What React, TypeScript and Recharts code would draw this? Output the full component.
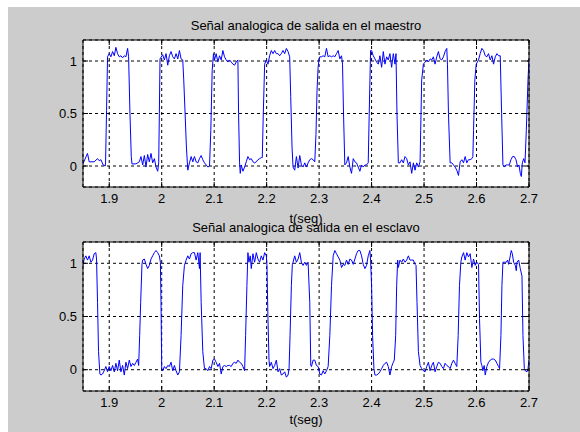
import React from 'react';
import { LineChart, Line, XAxis, YAxis, CartesianGrid } from 'recharts';

const xTicks = [1.9, 2, 2.1, 2.2, 2.3, 2.4, 2.5, 2.6, 2.7];
const yTicks = [0, 0.5, 1];
const xDomain: [number, number] = [1.85, 2.7];
const yDomain: [number, number] = [-0.2, 1.2];

const masterTitle = 'Señal analogica de salida en el maestro';
const slaveTitle = 'Señal analogica de salida en el esclavo';
const xLabel = 't(seg)';

// [t (s), amplitude] read from the master (top) trace
const masterSignal: [number, number][] = [
  [1.849, 0.01], [1.8586, 0.12], [1.8618, 0.04], [1.8713, 0.04], [1.8777, 0.07], [1.8809, 0.05],
  [1.8841, 0.06], [1.8885, 0.01], [1.8924, 0.0], [1.893, 0.03], [1.8949, 0.53], [1.8968, 1.04],
  [1.9, 1.07], [1.9032, 1.04], [1.9064, 1.09], [1.9096, 1.05], [1.9127, 1.13], [1.9159, 1.07],
  [1.9191, 1.04], [1.9223, 1.05], [1.9255, 1.03], [1.9287, 1.05], [1.9318, 1.04], [1.935, 1.12],
  [1.9369, 1.04], [1.9395, 0.5], [1.942, 0.09], [1.9433, 0.02], [1.951, 0.02], [1.9573, 0.04],
  [1.9605, 0.09], [1.9637, 0.01], [1.9669, 0.1], [1.9701, -0.01], [1.9732, 0.11], [1.9764, 0.04],
  [1.9796, 0.12], [1.9828, 0.03], [1.986, 0.07], [1.9892, -0.01], [1.9924, -0.05], [1.9943, 0.03],
  [1.9955, 0.5], [1.9968, 1.02], [2.0019, 1.06], [2.0051, 1.01], [2.0083, 1.07], [2.0115, 0.96],
  [2.0146, 1.05], [2.0178, 1.09], [2.021, 1.04], [2.0242, 1.02], [2.0274, 1.07], [2.0306, 1.02],
  [2.0338, 1.1], [2.0369, 1.02], [2.0401, 1.01], [2.042, 0.82], [2.0446, 0.5], [2.0471, 0.18],
  [2.0497, -0.04], [2.0529, 0.03], [2.0561, 0.09], [2.0592, 0.04], [2.0624, 0.09], [2.0656, 0.04],
  [2.0688, 0.03], [2.072, 0.07], [2.0752, 0.1], [2.0783, 0.06], [2.0815, 0.03], [2.0847, 0.01],
  [2.0879, -0.01], [2.0911, 0.0], [2.0936, 0.34], [2.0962, 0.91], [2.0987, 1.07], [2.1006, 1.01],
  [2.1038, 1.07], [2.107, 0.99], [2.1102, 1.05], [2.1134, 1.01], [2.1166, 1.1], [2.1197, 1.04],
  [2.1229, 1.01], [2.1261, 0.99], [2.1293, 1.01], [2.1325, 0.99], [2.1357, 0.97], [2.1389, 0.96],
  [2.142, 0.99], [2.1452, 1.01], [2.1465, 0.5], [2.1484, 0.03], [2.1497, -0.07], [2.1516, 0.01],
  [2.1548, -0.05], [2.158, -0.01], [2.1611, 0.04], [2.1643, 0.09], [2.1675, 0.06], [2.1707, 0.07],
  [2.1739, 0.04], [2.1771, 0.03], [2.1803, 0.04], [2.1834, 0.06], [2.1866, 0.07], [2.1898, 0.08],
  [2.1917, 0.08], [2.1936, 0.5], [2.1962, 0.97], [2.1994, 1.01], [2.2025, 0.97], [2.2057, 1.05],
  [2.2089, 1.1], [2.2121, 1.07], [2.2153, 1.1], [2.2185, 1.07], [2.2217, 1.07], [2.2248, 1.05],
  [2.228, 1.07], [2.2312, 1.1], [2.2344, 1.07], [2.2376, 1.12], [2.2408, 1.09], [2.2439, 1.04],
  [2.2459, 0.66], [2.2484, 0.18], [2.2503, -0.01], [2.2535, -0.04], [2.2567, 0.09], [2.2599, -0.02],
  [2.2631, 0.1], [2.2662, 0.01], [2.2694, -0.01], [2.2726, 0.03], [2.2758, -0.01], [2.279, 0.03],
  [2.2822, 0.06], [2.2854, 0.07], [2.2885, 0.06], [2.2917, 0.04], [2.294, 0.3], [2.296, 0.72],
  [2.2981, 0.94], [2.3, 1.02], [2.3013, 1.04], [2.3045, 1.04], [2.3076, 1.05], [2.3108, 1.04],
  [2.314, 1.12], [2.3172, 1.04], [2.3204, 1.05], [2.3236, 1.04], [2.3268, 1.05], [2.3299, 1.04],
  [2.3331, 1.07], [2.3363, 1.1], [2.3395, 1.02], [2.3427, 1.05], [2.3446, 0.97], [2.3465, 0.5],
  [2.349, 0.01], [2.3522, 0.03], [2.3554, 0.09], [2.3586, -0.01], [2.3618, -0.07], [2.365, 0.07],
  [2.3682, 0.04], [2.3713, 0.03], [2.3745, -0.01], [2.3777, -0.05], [2.3809, 0.01], [2.3841, -0.01],
  [2.3873, 0.01], [2.3904, 0.01], [2.3936, 0.03], [2.3955, 0.5], [2.3981, 1.1], [2.4, 1.1],
  [2.4032, 1.05], [2.4064, 1.02], [2.4096, 0.99], [2.4127, 0.97], [2.4159, 1.05], [2.4191, 0.94],
  [2.4223, 1.09], [2.4255, 0.97], [2.4287, 1.04], [2.4318, 1.01], [2.435, 1.07], [2.4382, 0.94],
  [2.4414, 1.07], [2.4446, 0.97], [2.4465, 1.07], [2.4484, 0.5], [2.451, 0.03], [2.4541, 0.03],
  [2.4573, 0.06], [2.4605, 0.03], [2.4637, 0.09], [2.4669, 0.07], [2.4701, 0.01], [2.4732, 0.04],
  [2.4764, -0.07], [2.4796, 0.03], [2.4828, -0.04], [2.486, 0.03], [2.4892, -0.01], [2.4924, 0.04],
  [2.4936, 0.34], [2.4955, 0.82], [2.4987, 0.97], [2.5019, 0.99], [2.5051, 1.01], [2.5083, 0.99],
  [2.5115, 1.02], [2.5146, 1.01], [2.5178, 1.04], [2.521, 0.97], [2.5242, 1.04], [2.5274, 1.09],
  [2.5306, 1.02], [2.5338, 1.01], [2.5369, 1.04], [2.5401, 1.09], [2.5433, 1.12], [2.5446, 0.97],
  [2.5465, 0.5], [2.5497, 0.03], [2.5529, 0.03], [2.5561, 0.01], [2.5592, -0.01], [2.5624, -0.04],
  [2.5656, -0.09], [2.5688, 0.04], [2.572, 0.06], [2.5752, 0.03], [2.5783, 0.09], [2.5815, 0.03],
  [2.5847, 0.06], [2.5879, 0.06], [2.5911, 0.07], [2.593, 0.09], [2.5943, 0.34], [2.5968, 0.82],
  [2.5994, 0.97], [2.6038, 1.01], [2.607, 1.07], [2.6102, 1.12], [2.6134, 1.1], [2.6166, 1.05],
  [2.6197, 1.04], [2.6229, 1.07], [2.6261, 1.01], [2.6293, 1.05], [2.6325, 0.97], [2.6357, 1.04],
  [2.6389, 1.07], [2.642, 1.05], [2.6452, 1.05], [2.6478, 0.5], [2.6503, 0.01], [2.6529, -0.01],
  [2.6561, 0.01], [2.6592, 0.01], [2.6624, 0.01], [2.6656, 0.06], [2.6688, 0.09], [2.672, 0.09],
  [2.6752, 0.06], [2.6783, -0.01], [2.6809, 0.01], [2.6834, -0.07], [2.6854, -0.1], [2.6873, 0.03],
  [2.6899, 0.07], [2.6924, 0.03], [2.6949, 0.34], [2.6981, 0.82], [2.7, 1.02],
];

// [t (s), amplitude] read from the slave (bottom) trace
const slaveSignal: [number, number][] = [
  [1.849, 0.96], [1.8522, 1.04], [1.8554, 1.07], [1.8586, 1.03], [1.8618, 1.07], [1.865, 1.01],
  [1.8682, 1.03], [1.8713, 1.09], [1.8745, 1.1], [1.8758, 1.04], [1.8777, 0.63], [1.8796, 0.17],
  [1.8822, -0.04], [1.8841, -0.05], [1.8873, -0.04], [1.8904, -0.01], [1.8936, 0.03], [1.8968, -0.02],
  [1.9, 0.03], [1.9032, -0.01], [1.9064, 0.04], [1.9096, -0.02], [1.9127, 0.06], [1.9159, -0.01],
  [1.9191, 0.09], [1.9223, -0.02], [1.9255, 0.04], [1.9287, -0.05], [1.9318, 0.07], [1.935, 0.01],
  [1.9382, 0.09], [1.9414, 0.03], [1.9446, 0.06], [1.9478, 0.04], [1.951, 0.07], [1.9541, 0.1],
  [1.9561, 0.04], [1.958, 0.32], [1.9599, 0.63], [1.9624, 0.99], [1.9637, 1.03], [1.9669, 1.04],
  [1.9701, 0.99], [1.9732, 0.95], [1.9764, 0.98], [1.9796, 1.04], [1.9828, 1.07], [1.986, 1.1],
  [1.9892, 1.12], [1.9924, 1.1], [1.9955, 1.07], [1.9975, 1.01], [1.9987, 0.63], [2.0, 0.01],
  [2.0019, -0.01], [2.0051, 0.03], [2.0083, 0.01], [2.0115, 0.04], [2.0146, 0.03], [2.0178, 0.07],
  [2.021, -0.01], [2.0242, 0.04], [2.0274, -0.01], [2.0306, -0.05], [2.0338, -0.02], [2.0369, 0.32],
  [2.0401, 0.79], [2.0433, 0.98], [2.0465, 1.03], [2.0497, 1.07], [2.0529, 1.04], [2.0561, 1.09],
  [2.0592, 1.1], [2.0624, 1.1], [2.0656, 1.03], [2.0688, 1.1], [2.072, 0.95], [2.0732, 1.1],
  [2.0752, 0.63], [2.0783, 0.17], [2.0815, 0.01], [2.0847, 0.01], [2.0879, -0.01], [2.0911, 0.03],
  [2.0943, 0.01], [2.0975, 0.09], [2.1006, 0.1], [2.1038, 0.07], [2.107, 0.03], [2.1102, 0.06],
  [2.1134, -0.04], [2.1166, 0.03], [2.1197, 0.04], [2.1229, 0.03], [2.1261, 0.04], [2.1293, 0.04],
  [2.1325, 0.03], [2.1357, 0.06], [2.1389, 0.07], [2.142, 0.06], [2.1452, 0.09], [2.1484, 0.07],
  [2.1516, 0.06], [2.1548, 0.03], [2.158, -0.01], [2.1599, 0.32], [2.1624, 0.79], [2.1643, 1.1],
  [2.1662, 1.01], [2.1688, 1.07], [2.1707, 0.95], [2.1739, 1.09], [2.1771, 1.01], [2.1803, 1.1],
  [2.1834, 1.04], [2.1866, 1.01], [2.1898, 1.07], [2.193, 1.03], [2.1962, 1.1], [2.1994, 1.07],
  [2.2006, 0.98], [2.2025, 0.48], [2.2045, 0.09], [2.2057, 0.03], [2.2089, 0.07], [2.2121, 0.01],
  [2.2153, 0.04], [2.2185, 0.09], [2.2217, -0.02], [2.2248, 0.01], [2.228, -0.05], [2.2312, -0.04],
  [2.2344, -0.02], [2.2376, -0.07], [2.2408, -0.05], [2.2427, 0.01], [2.2446, 0.32], [2.2471, 0.79],
  [2.249, 0.99], [2.2503, 1.01], [2.2535, 1.07], [2.2567, 1.01], [2.2599, 1.04], [2.2631, 1.1],
  [2.2662, 1.01], [2.2694, 0.98], [2.2726, 1.01], [2.2758, 0.98], [2.279, 1.01], [2.2822, 0.63],
  [2.2841, 0.04], [2.2854, 0.03], [2.2885, 0.09], [2.2917, 0.09], [2.2949, 0.04], [2.2981, 0.03],
  [2.3013, -0.04], [2.3045, -0.05], [2.3076, -0.01], [2.3108, -0.04], [2.314, -0.01], [2.3172, 0.03],
  [2.3204, 0.32], [2.3236, 0.79], [2.3268, 1.07], [2.3299, 1.12], [2.3331, 1.09], [2.3363, 1.06],
  [2.3395, 1.03], [2.3427, 0.96], [2.3459, 0.99], [2.349, 0.98], [2.3522, 1.03], [2.3554, 0.99],
  [2.3586, 1.04], [2.3618, 1.03], [2.365, 0.99], [2.3682, 1.04], [2.3713, 1.09], [2.3745, 1.12],
  [2.3777, 1.12], [2.3809, 1.07], [2.3841, 0.99], [2.3873, 0.95], [2.3904, 0.98], [2.3936, 1.07],
  [2.3968, 1.12], [2.3981, 1.03], [2.4, 0.79], [2.4019, 0.32], [2.4045, 0.01], [2.4064, -0.05],
  [2.4096, -0.05], [2.4127, -0.04], [2.4159, -0.02], [2.4191, 0.01], [2.4223, 0.04], [2.4255, 0.06],
  [2.4287, 0.07], [2.4318, 0.03], [2.435, -0.05], [2.4382, 0.03], [2.4414, 0.07], [2.4433, 0.09],
  [2.4459, 0.32], [2.4478, 0.79], [2.4497, 1.03], [2.451, 0.96], [2.4541, 1.03], [2.4573, 1.01],
  [2.4605, 1.04], [2.4637, 1.01], [2.4669, 1.03], [2.4701, 1.07], [2.4732, 1.03], [2.4764, 1.03],
  [2.4796, 1.03], [2.4828, 0.99], [2.4847, 0.98], [2.4866, 0.63], [2.4892, 0.17], [2.4924, 0.04],
  [2.4955, 0.01], [2.4987, -0.01], [2.5019, -0.02], [2.5051, 0.03], [2.5083, 0.07], [2.5115, -0.01],
  [2.5146, 0.04], [2.5178, 0.07], [2.521, -0.02], [2.5242, 0.03], [2.5274, 0.07], [2.5306, 0.06],
  [2.5338, 0.03], [2.5369, 0.01], [2.5401, 0.06], [2.5433, 0.04], [2.5465, 0.03], [2.5497, 0.01],
  [2.5529, 0.06], [2.5561, 0.09], [2.5592, 0.06], [2.5624, 0.03], [2.565, 0.32], [2.5675, 0.79],
  [2.5701, 1.01], [2.572, 1.06], [2.5752, 1.1], [2.5783, 1.03], [2.5815, 1.1], [2.5847, 1.06],
  [2.5879, 1.09], [2.5911, 0.96], [2.5943, 1.04], [2.5975, 0.98], [2.6006, 1.01], [2.6038, 0.99],
  [2.6057, 0.48], [2.6083, 0.07], [2.6102, 0.04], [2.6121, -0.01], [2.6146, 0.04], [2.6166, -0.05],
  [2.6197, 0.03], [2.6229, 0.07], [2.6261, 0.09], [2.6293, 0.1], [2.6325, 0.1], [2.6357, 0.09],
  [2.6389, 0.06], [2.642, 0.03], [2.6439, 0.01], [2.6465, 0.32], [2.6484, 0.79], [2.6503, 1.01],
  [2.6529, 1.01], [2.6567, 1.01], [2.6592, 1.03], [2.6611, 0.99], [2.6643, 1.07], [2.6662, 1.12],
  [2.6682, 1.09], [2.6707, 1.01], [2.6739, 0.98], [2.6758, 0.93], [2.6771, 1.01], [2.6803, 1.03],
  [2.6834, 0.95], [2.6866, 0.88], [2.6885, 0.32], [2.6911, 0.01], [2.693, -0.01], [2.6962, -0.02],
  [2.6981, 0.01], [2.7, 0.09],
];

const toRows = (s: [number, number][]) => s.map(([t, v]) => ({ t, v }));
const blank = () => '';
const FONT = '"Liberation Sans", Arial, Helvetica, sans-serif';

function Panel({ rows, height, topH, bottomH }: { rows: { t: number; v: number }[]; height: number; topH: number; bottomH: number }) {
  return (
    <LineChart width={572} height={height} data={rows} margin={{ top: 0, right: 0, bottom: 0, left: 0 }}>
      <CartesianGrid xAxisId="b" yAxisId="l" stroke="#000" strokeDasharray="3 3" fill="#ffffff" fillOpacity={1} />
      <XAxis xAxisId="b" dataKey="t" type="number" domain={xDomain} ticks={xTicks} allowDataOverflow orientation="bottom"
        height={bottomH} stroke="#000" tickSize={-5} tickMargin={12} interval={0}
        tick={{ fill: '#000', fontSize: 13, fontFamily: FONT }} />
      <XAxis xAxisId="t" dataKey="t" type="number" domain={xDomain} ticks={xTicks} allowDataOverflow orientation="top"
        height={topH} stroke="#000" tickSize={-5} tickFormatter={blank} interval={0} />
      <YAxis yAxisId="l" type="number" domain={yDomain} ticks={yTicks} allowDataOverflow width={75}
        stroke="#000" tickSize={-5} tickMargin={11} interval={0}
        tick={{ fill: '#000', fontSize: 13, fontFamily: FONT }} />
      <YAxis yAxisId="r" orientation="right" type="number" domain={yDomain} ticks={yTicks} allowDataOverflow width={51}
        stroke="#000" tickSize={-5} tickFormatter={blank} interval={0} />
      <Line xAxisId="b" yAxisId="l" dataKey="v" type="linear" stroke="#0000ff" strokeWidth={1} dot={false} isAnimationActive={false} />
    </LineChart>
  );
}

const textStyle = (top: number): React.CSSProperties => ({
  position: 'absolute', left: 75, width: 446, top, textAlign: 'center', fontSize: 13, lineHeight: '15px', color: '#000', whiteSpace: 'nowrap',
});

export default function App() {
  return (
    <div style={{ position: 'absolute', left: 8, top: 7, width: 572, height: 425, background: '#cccccc', fontFamily: FONT, overflow: 'hidden' }}>
      <div style={{ position: 'absolute', left: 0, top: 0 }}>
        <Panel rows={toRows(masterSignal)} height={212} topH={33} bottomH={32} />
      </div>
      <div style={{ position: 'absolute', left: 0, top: 212 }}>
        <Panel rows={toRows(slaveSignal)} height={213} topH={23} bottomH={41} />
      </div>
      <div style={textStyle(11)}>{masterTitle}</div>
      <div style={textStyle(204)}>{xLabel}</div>
      <div style={textStyle(213)}>{slaveTitle}</div>
      <div style={textStyle(405)}>{xLabel}</div>
    </div>
  );
}
